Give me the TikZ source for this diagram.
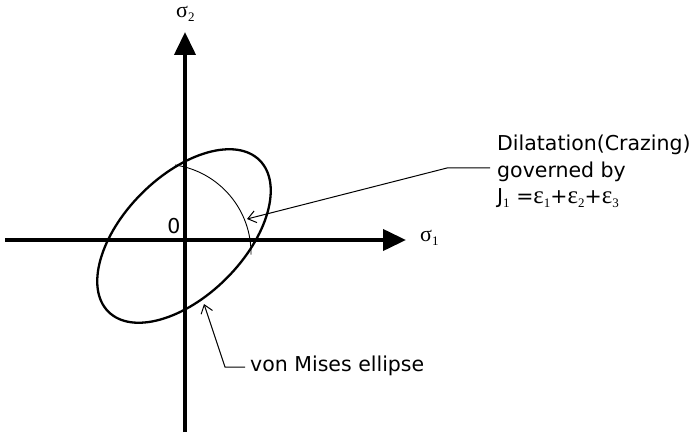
\documentclass[tikz,border=0pt]{standalone}
\usepackage{fontspec}
\setmainfont{DejaVu Sans}
\newfontfamily\grk{Liberation Serif}
\usetikzlibrary{arrows.meta}
\newcommand\mysub[1]{\raisebox{-0.35ex}{\fontsize{13}{13}\selectfont\grk #1}}
\newcommand\eps{{\fontsize{25}{25}\selectfont\grk ε}}
\begin{document}
\begin{tikzpicture}[x=1pt,y=1pt,
  axis/.style={line width=4pt,-{Triangle[length=23pt,width=21pt]}},
  leader/.style={line width=1pt,-{Straight Barb[length=8pt,width=12pt]}},
  lbl/.style={font=\fontsize{20.5}{26}\selectfont, inner sep=0pt},
  glbl/.style={font=\fontsize{22}{26}\selectfont\grk, inner sep=0pt}]
\useasboundingbox (0,0) rectangle (697,432);
% axes
\coordinate (O) at (185,192);
\coordinate (xs) at (5,192); \coordinate (xe) at (406,192);
\coordinate (ys) at (185,0); \coordinate (ye) at (185,400);
\draw[axis] (xs) -- (xe);
\draw[axis] (ys) -- (ye);
% von Mises ellipse
\coordinate (E) at (184,196);
\draw[line width=2.3pt, rotate around={45:(E)}] (E) ellipse[x radius=107pt, y radius=60pt];
% crazing arc
\coordinate (A) at (175,267);
\draw[line width=0.9pt] (A) arc[start angle=81.6, end angle=-1, radius=89pt];
% labels
\node[glbl, anchor=base west] (s2) at (176,414) {σ\mysub{2}};
\node[glbl, anchor=base west] (s1) at (420,190) {σ\mysub{1}};
\node[lbl, anchor=base] (zero) at (174,199) {0};
% dilatation label
\node[lbl, anchor=base west] (d1t) at (497,281) {Dilatation(Crazing)};
\node[lbl, anchor=base west] (d2t) at (497,254) {governed by};
\node[lbl, anchor=base west] (d3t) at (497,228) {J\mysub{1} =\eps\mysub{1}+\eps\mysub{2}+\eps\mysub{3}};
\coordinate (dA) at (490,264); \coordinate (dB) at (447,264); \coordinate (dC) at (247,213);
\draw[leader] (dA) -- (dB) -- (dC);
% von Mises label
\node[lbl, anchor=base west] (vm) at (250,61) {von Mises ellipse};
\coordinate (vA) at (245,65); \coordinate (vB) at (225,65); \coordinate (vC) at (204,128);
\draw[leader] (vA) -- (vB) -- (vC);
\end{tikzpicture}
\end{document}
